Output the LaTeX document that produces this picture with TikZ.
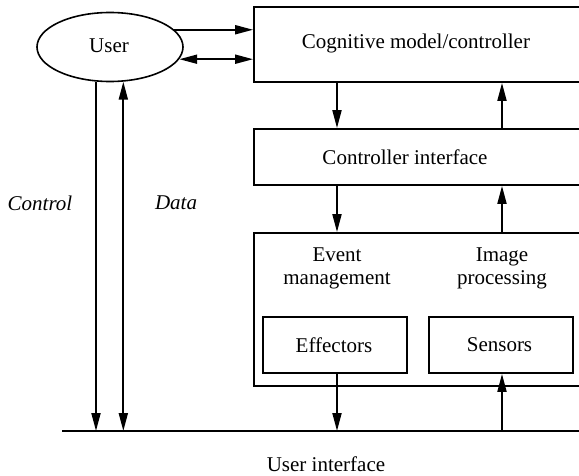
\documentclass[tikz,border=0pt]{standalone}
\usepackage{fontspec}
\setmainfont{Liberation Serif}
\usetikzlibrary{arrows.meta,shapes.geometric,calc}
\begin{document}
\begin{tikzpicture}[x=1pt,y=-1pt,
  every node/.style={font=\fontsize{21}{23}\selectfont, inner sep=0pt},
  wire/.style={line width=1.9pt},
  arr/.style={wire,-{Triangle[length=18pt,width=9pt]}},
  darr/.style={wire,{Triangle[length=18pt,width=9pt]}-{Triangle[length=18pt,width=9pt]}},
  box/.style={draw, line width=1.8pt, rectangle},
  lbl/.style={align=center}]
\clip (0,0) rectangle (579,476);

% user and the cognitive controller stack
\node[draw, ellipse, line width=1.6pt, minimum width=146pt, minimum height=69pt] (user) at (110,47) {};
\node (usertxt) at (109,46) {User};
\node[box, minimum width=326pt, minimum height=75pt] (cog) at (417,44.5) {};
\node (cogtxt) at (416,43) {Cognitive model/controller};
\node[box, minimum width=326pt, minimum height=56pt] (ctrl) at (417,157) {};
\node (ctrltxt) at (405,157) {Controller interface};
\node[box, minimum width=326pt, minimum height=153pt] (low) at (417,309.5) {};
\node[lbl] (ev) at (337,268) {Event\\management};
\node[lbl] (ip) at (502,268) {Image\\processing};
\node[box, minimum width=144pt, minimum height=56pt] (eff) at (335,345) {};
\node (efftxt) at (334,345) {Effectors};
\node[box, minimum width=144pt, minimum height=56pt] (sen) at (501,345) {};
\node (sentxt) at (499.5,345) {Sensors};

% user interface bus
\coordinate (uiL) at (62,431);
\coordinate (uiR) at (580,431);
\draw[line width=2pt] (uiL) -- (uiR);
\node (ui) at (326,464) {User interface};

% side labels
\node[font=\fontsize{21}{23}\selectfont\itshape] (ctl) at (40,203) {Control};
\node[font=\fontsize{21}{23}\selectfont\itshape] (dat) at (176,203) {Data};

% user <-> controller
\draw[arr] (user.15) -- (user.15 -| cog.west);
\draw[darr] (user.-10) -- (user.-10 -| cog.west);

% user <-> user interface
\draw[arr] (user.-112) -- (user.-112 |- uiL);
\draw[darr] (user.-69 |- uiL) -- (user.-69);

% controller stack links
\draw[arr] (ev |- cog.south) -- (ev |- ctrl.north);
\draw[arr] (ip |- ctrl.north) -- (ip |- cog.south);
\draw[arr] (ev |- ctrl.south) -- (ev |- low.north);
\draw[arr] (ip |- low.north) -- (ip |- ctrl.south);
\draw[arr] (ev |- eff.south) -- (ev |- uiL);
\draw[arr] (ip |- uiL) -- (ip |- sen.south);
\end{tikzpicture}
\end{document}
